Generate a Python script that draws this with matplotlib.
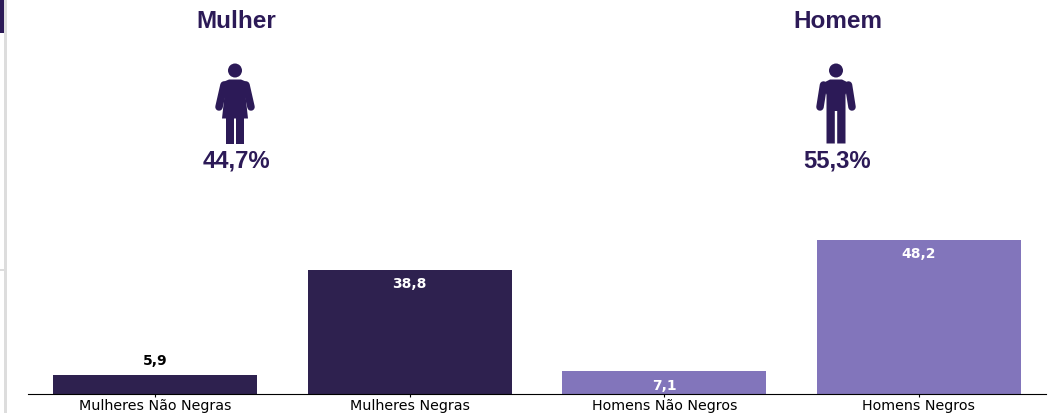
import matplotlib
matplotlib.use('Agg')
import matplotlib.pyplot as plt
from matplotlib.patches import Circle, Polygon, Rectangle

categories = ['Mulheres Não Negras', 'Mulheres Negras', 'Homens Não Negros', 'Homens Negros']
values = [5.9, 38.8, 7.1, 48.2]
value_labels = ['5,9', '38,8', '7,1', '48,2']
bar_colors = ['#2e214f', '#2e214f', '#8275bb', '#8275bb']
label_colors = ['black', 'white', 'white', 'white']
label_above = [True, False, False, False]

group_titles = ['Mulher', 'Homem']
group_shares = ['44,7%', '55,3%']

DARK = '#2c1a57'
W, H = 1053, 414

fig = plt.figure(figsize=(W / 100, H / 100), dpi=100)

# bar chart, placed on the pixel box of the original
ax = fig.add_axes([28 / W, 1 - 395 / H, (1046 - 28) / W, 380 / H])
ax.bar(range(4), values, width=0.8, color=bar_colors)
ax.set_xlim(-0.5, 3.5)
ax.set_ylim(0, 380 / 3.2)
ax.set_xticks(range(4))
ax.set_xticklabels(categories, fontsize=10.3)
ax.tick_params(axis='x', length=2, width=0.8, pad=1)
ax.set_yticks([])
for side in ['top', 'left', 'right']:
    ax.spines[side].set_visible(False)
ax.patch.set_alpha(0)

for i in range(4):
    if label_above[i]:
        ax.annotate(value_labels[i], (i, values[i]), xytext=(0, 6), textcoords='offset points',
                    ha='center', va='bottom', fontsize=10, fontweight='bold', color=label_colors[i])
    else:
        ax.annotate(value_labels[i], (i, values[i]), xytext=(0, -4.5), textcoords='offset points',
                    ha='center', va='top', fontsize=10, fontweight='bold', color=label_colors[i])

# overlay in pixel coordinates for the icons and headings
ov = fig.add_axes([0, 0, 1, 1])
ov.set_xlim(0, W)
ov.set_ylim(H, 0)
ov.axis('off')
ov.patch.set_alpha(0)

# page edge left over from the screenshot
ov.add_patch(Rectangle((4, 0), 2.5, H, color='#dddddd', lw=0))
ov.add_patch(Rectangle((0, 0), 4, 34, color=DARK, lw=0))
ov.add_patch(Rectangle((0, 270), 5, 2, color='#dddddd', lw=0))


def limb(x0, y0, x1, y1):
    ov.plot([x0, x1], [y0, y1], color=DARK, lw=5.4, solid_capstyle='round')


def woman(cx):
    ov.add_patch(Circle((cx, 71.5), 7, color=DARK, lw=0))
    ov.add_patch(Polygon([(cx - 12, 83), (cx - 6, 80.5), (cx + 6, 80.5), (cx + 12, 83),
                          (cx + 10, 92), (cx + 13, 119.5), (cx - 13, 119.5), (cx - 10, 92)],
                         closed=True, color=DARK, lw=0))
    limb(cx - 11, 86, cx - 16, 108)
    limb(cx + 11, 86, cx + 16, 108)
    ov.add_patch(Rectangle((cx - 9, 118), 8, 26.5, color=DARK, lw=0))
    ov.add_patch(Rectangle((cx + 1, 118), 8, 26.5, color=DARK, lw=0))


def man(cx):
    ov.add_patch(Circle((cx, 71.5), 7, color=DARK, lw=0))
    ov.add_patch(Polygon([(cx - 13, 84), (cx - 6, 80.5), (cx + 6, 80.5), (cx + 13, 84),
                          (cx + 9.5, 96), (cx + 9.5, 144.5), (cx + 1.2, 144.5), (cx + 1.2, 112),
                          (cx - 1.2, 112), (cx - 1.2, 144.5), (cx - 9.5, 144.5), (cx - 9.5, 96)],
                         closed=True, color=DARK, lw=0))
    limb(cx - 12.5, 86, cx - 16, 108)
    limb(cx + 12.5, 86, cx + 16, 108)


woman(235)
man(836)

for cx, title in zip([236, 838], group_titles):
    ov.text(cx, 22, title, ha='center', va='center', fontsize=17.5, fontweight='bold',
            family='Liberation Sans', color=DARK)
for cx, share in zip([236.5, 837], group_shares):
    ov.text(cx, 161, share, ha='center', va='center', fontsize=17.2, fontweight='bold',
            family='Liberation Sans', color=DARK)

fig.savefig('out.png', dpi=100)
